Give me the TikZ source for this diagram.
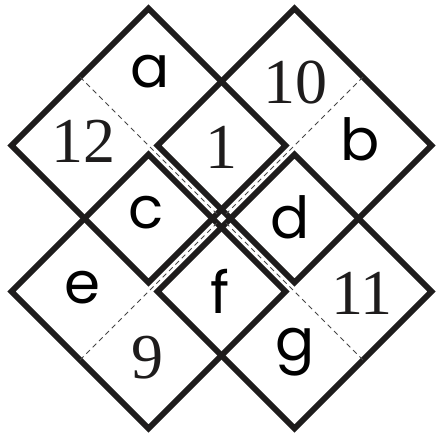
\documentclass[tikz,border=0pt]{standalone}
\usepackage{fontspec}
\usepackage{tikz}
\usetikzlibrary{shapes.geometric, calc}
\newfontfamily\lettfont{Poppins}
\newfontfamily\numfont{Liberation Serif}
\definecolor{inkblack}{RGB}{30,28,28}
\definecolor{foldgray}{RGB}{70,70,70}
\tikzset{
  quad/.style={diamond, draw=inkblack, line width=5.8pt, minimum width=274pt,
    minimum height=274pt, inner sep=0pt, outer sep=0pt},
  fold/.style={draw=foldgray, line width=1pt, dash pattern=on 5pt off 4pt},
  lett/.style={inner sep=0pt, text=black, font=\lettfont\fontsize{58}{60}\selectfont},
  numb/.style={inner sep=0pt, text=inkblack, font=\numfont\fontsize{64}{66}\selectfont}
}
\begin{document}
\begin{tikzpicture}[x=1pt, y=-1pt]
  \useasboundingbox (0,0) rectangle (437,434);
  \node[quad] (tl) at (148.5,145.5) {};
  \node[quad] (tr) at (294.5,145.5) {};
  \node[quad] (bl) at (148.5,291.5) {};
  \node[quad] (br) at (294.5,291.5) {};
  \draw[fold] ($(tl.north)!.5!(tl.west)$) -- ($(tl.east)!.5!(tl.south)$);
  \draw[fold] ($(tr.north)!.5!(tr.east)$) -- ($(tr.west)!.5!(tr.south)$);
  \draw[fold] ($(bl.west)!.5!(bl.south)$) -- ($(bl.north)!.5!(bl.east)$);
  \draw[fold] ($(br.east)!.5!(br.south)$) -- ($(br.north)!.5!(br.west)$);
  \node[lett] (la) at (150,72) {a};
  \node[numb] (n12) at (83,141) {12};
  \node[numb] (n10) at (295,83) {10};
  \node[numb] (n1) at (221,147) {1};
  \node[lett] (lb) at (360,139) {b};
  \node[lett] (lc) at (146,213) {c};
  \node[lett] (ld) at (290,217) {d};
  \node[lett] (le) at (82,288) {e};
  \node[lett] (lf) at (220,291) {f};
  \node[numb] (n9) at (147,358) {9};
  \node[numb] (n11) at (362,293) {11};
  \node[lett] (lg) at (295,352) {g};
\end{tikzpicture}
\end{document}
